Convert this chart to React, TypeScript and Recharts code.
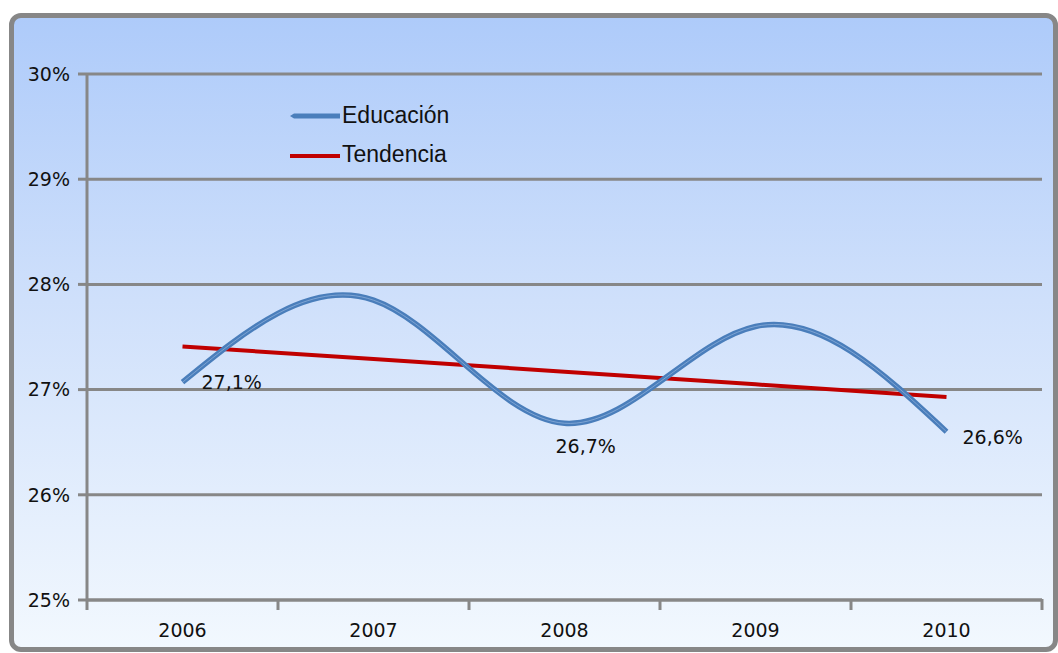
import React from "react";
import { LineChart, Line, XAxis, YAxis, CartesianGrid, LabelList } from "recharts";

const years = ["2006", "2007", "2008", "2009", "2010"];
const educacion = [27.07, 27.85, 26.68, 27.6, 26.6];
const tendencia = [27.41, 27.29, 27.17, 27.05, 26.93];
const pointLabels = ["27,1%", "", "26,7%", "", "26,6%"];
const yTicks = [25, 26, 27, 28, 29, 30];

const data = years.map((y, i) => ({
  year: y,
  educacion: educacion[i],
  tendencia: tendencia[i],
  label: pointLabels[i],
}));

const GRAY = "#878787";
const BLUE = "#4a7ebb";
const RED = "#c00000";
const FONT = "'DejaVu Sans', Verdana, sans-serif";

const XTick = (props: any) => {
  const { x, y, payload, index } = props;
  const off = payload && payload.offset ? payload.offset : 95.5;
  return (
    <g>
      <line x1={x - off} y1={y - 1} x2={x - off} y2={y + 10} stroke={GRAY} strokeWidth={3} />
      {index === years.length - 1 && (
        <line x1={x + off} y1={y - 1} x2={x + off} y2={y + 10} stroke={GRAY} strokeWidth={3} />
      )}
      <text x={x} y={y + 37} textAnchor="middle" fontFamily={FONT} fontSize={19} fill="#111">
        {payload.value}
      </text>
    </g>
  );
};

const PointLabel = (props: any) => {
  const { x, y, value, index } = props;
  if (!value) return null;
  const dx = index === 2 ? -9 : index === 4 ? 16 : 19;
  const dy = index === 2 ? 30 : index === 4 ? 12 : 7;
  return (
    <text x={x + dx} y={y + dy} textAnchor="start" fontFamily={FONT} fontSize={19} fill="#111">
      {value}
    </text>
  );
};

const LegendBox = () => (
  <div
    style={{
      position: "absolute",
      left: 290,
      top: 96,
      fontFamily: "'Liberation Sans', Arial, sans-serif",
      fontSize: 23,
      color: "#111",
    }}
  >
    <div style={{ display: "flex", alignItems: "center", height: 39 }}>
      <svg width={52} height={10}>
        <path d="M0 5 L4 2.5 L50 2.5 L50 7.5 L4 7.5 Z" fill={BLUE} />
      </svg>
      <span>Educación</span>
    </div>
    <div style={{ display: "flex", alignItems: "center", height: 39 }}>
      <svg width={52} height={10}>
        <rect x={0} y={4} width={50} height={4} fill={RED} />
      </svg>
      <span>Tendencia</span>
    </div>
  </div>
);

export default function App() {
  return (
    <div style={{ position: "absolute", left: 0, top: 0, width: 1058, height: 653, background: "#fff", overflow: "hidden" }}>
      <div
        style={{
          position: "absolute",
          left: 9,
          top: 13,
          width: 1049,
          height: 639,
          boxSizing: "border-box",
          border: `5px solid ${GRAY}`,
          borderRadius: 12,
          background: "linear-gradient(to bottom, #aecbfa 0%, #cfe0fb 45%, #f2f8fe 100%)",
        }}
      />
      <div style={{ position: "absolute", left: 0, top: 0 }}>
        <LineChart
          width={1058}
          height={653}
          data={data}
          margin={{ top: 74, right: 16, bottom: 13, left: 27 }}
        >
          <CartesianGrid vertical={false} stroke={GRAY} strokeWidth={3} />
          <XAxis
            dataKey="year"
            scale="band"
            height={40}
            tickSize={0}
            tickMargin={0}
            tickLine={false}
            axisLine={{ stroke: GRAY, strokeWidth: 3 }}
            tick={<XTick />}
            interval={0}
          />
          <YAxis
            width={60}
            domain={[25, 30]}
            ticks={yTicks}
            tickFormatter={(v: number) => `${v}%`}
            tickSize={9}
            tickMargin={8}
            axisLine={{ stroke: GRAY, strokeWidth: 3 }}
            tickLine={{ stroke: GRAY, strokeWidth: 3 }}
            tick={{ fontFamily: FONT, fontSize: 19, fill: "#111" }}
            allowDataOverflow
          />
          <Line
            dataKey="tendencia"
            type="linear"
            stroke={RED}
            strokeWidth={4}
            dot={false}
            isAnimationActive={false}
          />
          <Line
            dataKey="educacion"
            type="natural"
            stroke={BLUE}
            strokeWidth={5.5}
            dot={false}
            isAnimationActive={false}
          >
            <LabelList dataKey="label" content={<PointLabel />} />
          </Line>
          <Line
            dataKey="educacion"
            type="natural"
            stroke="#a8c3e8"
            strokeWidth={1}
            strokeOpacity={0.55}
            dot={false}
            legendType="none"
            isAnimationActive={false}
          />
        </LineChart>
      </div>
      <LegendBox />
    </div>
  );
}
